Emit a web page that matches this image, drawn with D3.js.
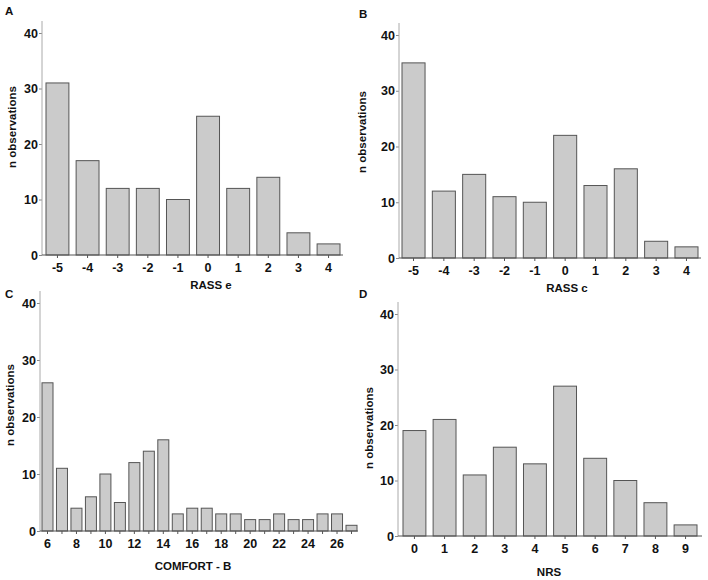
<!DOCTYPE html>
<html>
<head>
<meta charset="utf-8">
<script src="https://cdn.jsdelivr.net/npm/d3@7"></script>
<style>
  body { margin: 0; background: #fff; }
  text { font-family: "Liberation Sans", Arial, sans-serif; font-weight: bold; fill: #111; }
</style>
</head>
<body>
<svg id="chart" width="708" height="580"></svg>
<script>
// Données
const rassCats = ['-5', '-4', '-3', '-2', '-1', '0', '1', '2', '3', '4'];
const rassE = [31, 17, 12, 12, 10, 25, 12, 14, 4, 2];
const rassC = [35, 12, 15, 11, 10, 22, 13, 16, 3, 2];
const comfortCats = ['6', '7', '8', '9', '10', '11', '12', '13', '14', '15', '16', '17',
  '18', '19', '20', '21', '22', '23', '24', '25', '26', '27'];
const comfortB = [26, 11, 4, 6, 10, 5, 12, 14, 16, 3, 4, 4, 3, 3, 2, 2, 3, 2, 2, 3, 3, 1];
const comfortTickLabels = ['6', '8', '10', '12', '14', '16', '18', '20', '22', '24', '26'];
const nrsCats = ['0', '1', '2', '3', '4', '5', '6', '7', '8', '9'];
const nrs = [19, 21, 11, 16, 13, 27, 14, 10, 6, 2];
const yTicks = [0, 10, 20, 30, 40];

const svg = d3.select('#chart');

// Mise en page de chaque panneau (pixels)
const panels = [
  { letter: 'A', lx: 5, ly: 15, cats: rassCats, values: rassE, title: 'RASS e', labels: null,
    axisX: 42, axisEnd: 343, axisTop: 21, y0: 255, y40: 33, bx0: 46, bx1: 340,
    titleX: 211, titleY: 289, yTitleX: 16, yTitleY: 127 },
  { letter: 'B', lx: 359, ly: 18, cats: rassCats, values: rassC, title: 'RASS c', labels: null,
    axisX: 399, axisEnd: 701, axisTop: 23, y0: 258, y40: 35, bx0: 402, bx1: 698,
    titleX: 567, titleY: 292, yTitleX: 366, yTitleY: 132 },
  { letter: 'C', lx: 5, ly: 298, cats: comfortCats, values: comfortB, title: 'COMFORT - B', labels: comfortTickLabels,
    axisX: 40, axisEnd: 358, axisTop: 291, y0: 531, y40: 303, bx0: 42, bx1: 357,
    titleX: 193, titleY: 570, yTitleX: 14, yTitleY: 405 },
  { letter: 'D', lx: 359, ly: 298, cats: nrsCats, values: nrs, title: 'NRS', labels: null,
    axisX: 398, axisEnd: 702, axisTop: 302, y0: 536, y40: 314, bx0: 403, bx1: 697,
    titleX: 549, titleY: 576, yTitleX: 373, yTitleY: 428 }
];

const fontFamily = '"Liberation Sans", Arial, sans-serif';

panels.forEach(p => {
  const g = svg.append('g');

  const x = d3.scaleBand()
    .domain(p.cats)
    .range([p.bx0, p.bx1])
    .paddingInner(0.24)
    .paddingOuter(0);

  const y = d3.scaleLinear()
    .domain([0, 40])
    .range([p.y0, p.y40]);

  // Barres
  g.selectAll('.bar')
    .data(p.cats.map((c, i) => ({ cat: c, value: p.values[i] })))
    .enter().append('rect')
    .attr('class', 'bar')
    .attr('x', d => x(d.cat))
    .attr('y', d => y(d.value))
    .attr('width', x.bandwidth())
    .attr('height', d => p.y0 - y(d.value))
    .attr('fill', '#cbcbcb')
    .attr('stroke', '#555')
    .attr('stroke-width', 1);

  // Axe Y
  const yAxis = g.append('g')
    .attr('transform', `translate(${p.axisX},0)`)
    .call(d3.axisLeft(y).tickValues(yTicks).tickSize(3).tickPadding(1));
  yAxis.select('.domain').remove();
  yAxis.selectAll('.tick line').attr('stroke', '#888');
  yAxis.selectAll('text').attr('font-size', 12.5).attr('fill', '#111')
    .style('font-family', fontFamily).style('font-weight', 'bold');
  g.append('line')
    .attr('x1', p.axisX).attr('x2', p.axisX)
    .attr('y1', p.axisTop).attr('y2', p.y0)
    .attr('stroke', '#aaa');

  // Axe X
  const xAxis = g.append('g')
    .attr('transform', `translate(0,${p.y0})`)
    .call(d3.axisBottom(x).tickSize(3).tickPadding(5)
      .tickFormat(d => (p.labels === null || p.labels.includes(d)) ? d : ''));
  xAxis.select('.domain').remove();
  xAxis.selectAll('.tick line').attr('stroke', '#555');
  xAxis.selectAll('text').attr('font-size', 12.5).attr('fill', '#111')
    .style('font-family', fontFamily).style('font-weight', 'bold');
  g.append('line')
    .attr('x1', p.axisX).attr('x2', p.axisEnd)
    .attr('y1', p.y0).attr('y2', p.y0)
    .attr('stroke', '#555');

  // Titres
  g.append('text')
    .attr('x', p.titleX).attr('y', p.titleY)
    .attr('text-anchor', 'middle')
    .attr('font-size', 11.5)
    .text(p.title);

  g.append('text')
    .attr('transform', `translate(${p.yTitleX},${p.yTitleY}) rotate(-90)`)
    .attr('text-anchor', 'middle')
    .attr('font-size', 11.5)
    .text('n observations');

  g.append('text')
    .attr('x', p.lx).attr('y', p.ly)
    .attr('font-size', 11.5)
    .text(p.letter);
});
</script>
</body>
</html>
